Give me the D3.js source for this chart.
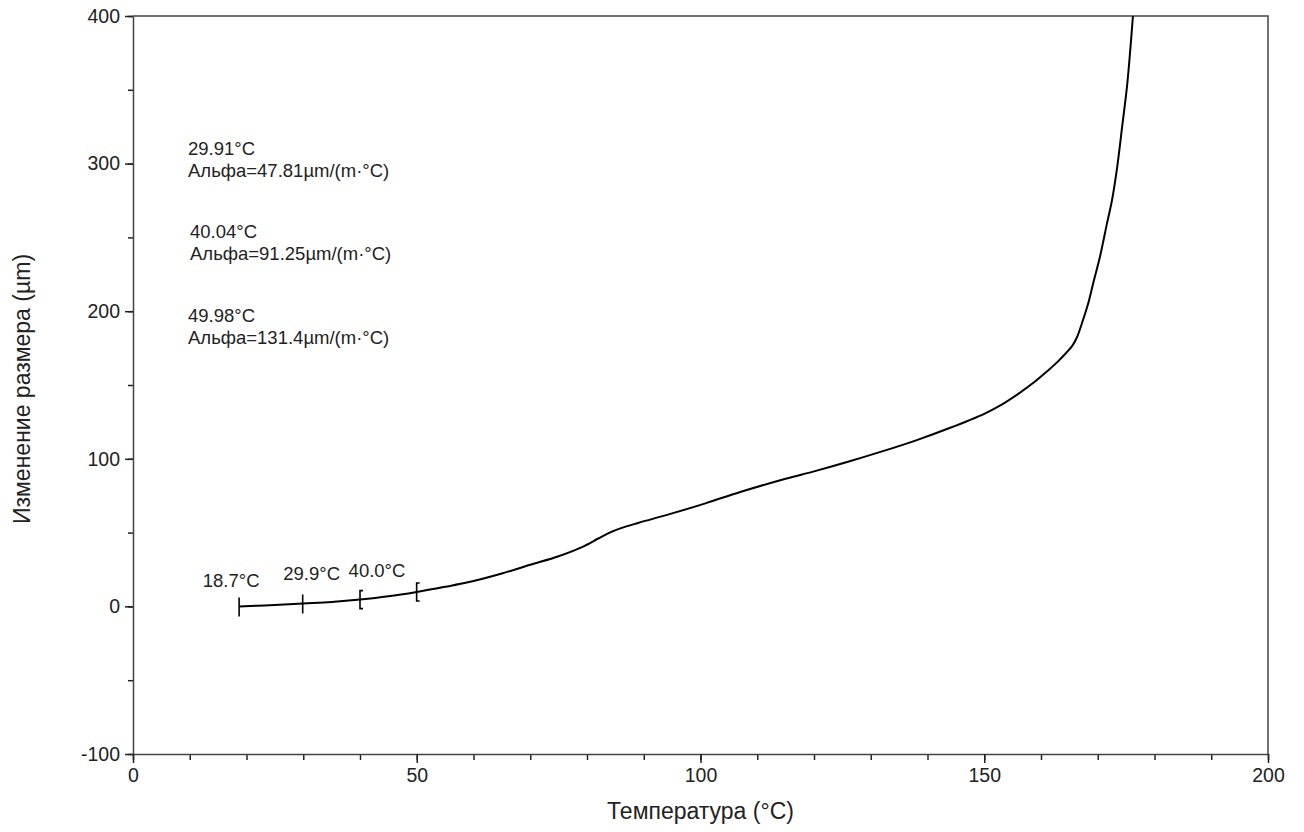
<!DOCTYPE html>
<html>
<head>
<meta charset="utf-8">
<script src="https://cdn.jsdelivr.net/npm/d3@7"></script>
<style>
  body { margin: 0; background: #fff; }
  text { font-family: "Liberation Sans", Arial, sans-serif; fill: #222; }
</style>
</head>
<body>
<svg id="chart" width="1304" height="832"></svg>
<script>
// dilatometer curve
const temps = [18.7, 22, 25, 30, 35, 40, 45, 50, 55, 59, 65, 70, 75, 79, 82, 84, 86, 89, 95, 101, 107, 115, 120, 126, 132, 138, 144, 150, 153, 156, 159, 161, 163, 164.5, 165.5, 166.3, 167.4, 168.3, 169.2, 170.4, 171.6, 172.5, 173.4, 174.3, 175.2, 176.2]
const dL    = [0, 0.5, 1.0, 2.0, 3.0, 4.6, 6.8, 9.8, 13.3, 16.3, 22.3, 28.2, 34, 40, 46, 50, 53, 56.5, 63, 70, 77.5, 86.5, 91.5, 98, 105, 112.5, 121, 130.5, 136.5, 144, 152.5, 159, 166, 172, 176.5, 182, 194, 205, 219, 237, 259, 275, 297, 325, 354, 400]

// markers on the curve
const markTemps  = [18.7, 29.9, 40.0, 49.98]
const markKinds  = ['bar', 'bar', 'bracket', 'bracket']
const markLabels = ['18.7°C', '29.9°C', '40.0°C']

// alpha annotations
const alphaTemps  = ['29.91°C', '40.04°C', '49.98°C']
const alphaValues = ['Альфа=47.81µm/(m·°C)', 'Альфа=91.25µm/(m·°C)', 'Альфа=131.4µm/(m·°C)']

const xTicks = [0, 50, 100, 150, 200]
const yTicks = [-100, 0, 100, 200, 300, 400]

const margin = { top: 16, left: 133 }
const w = 1135, h = 738

const svg = d3.select('#chart')
const g = svg.append('g').attr('transform', `translate(${margin.left},${margin.top})`)

const x = d3.scaleLinear().domain([0, 200]).range([0, w])
const y = d3.scaleLinear().domain([-100, 400]).range([h, 0])
const fmt = d => String(d)   // plain hyphen for negatives

// frame top / right
g.append('path')
  .attr('d', `M0,0H${w}V${h}`)
  .attr('fill', 'none').attr('stroke', '#444').attr('stroke-width', 1.5)

// minor ticks
g.append('g').attr('transform', `translate(0,${h})`)
  .call(d3.axisBottom(x).tickValues(d3.range(0, 201, 10)).tickSize(6).tickFormat(''))
  .call(a => a.select('.domain').remove())
  .selectAll('line').attr('stroke', '#222').attr('stroke-width', 1.5)
g.append('g')
  .call(d3.axisLeft(y).tickValues(d3.range(-100, 401, 50)).tickSize(5).tickFormat(''))
  .call(a => a.select('.domain').remove())
  .selectAll('line').attr('stroke', '#222').attr('stroke-width', 1.5)

// major axes
const xAxis = g.append('g').attr('transform', `translate(0,${h})`)
  .call(d3.axisBottom(x).tickValues(xTicks).tickFormat(fmt).tickSize(9).tickSizeOuter(0).tickPadding(5))
const yAxis = g.append('g')
  .call(d3.axisLeft(y).tickValues(yTicks).tickFormat(fmt).tickSize(8).tickSizeOuter(0).tickPadding(5))
;[xAxis, yAxis].forEach(a => {
  a.select('.domain').attr('stroke', '#444').attr('stroke-width', 1.5)
  a.selectAll('line').attr('stroke', '#222').attr('stroke-width', 1.5)
  a.selectAll('text').attr('font-size', 19.5).attr('fill', '#222')
    .style('font-family', '"Liberation Sans", Arial, sans-serif')
})

// axis titles
svg.append('text')
  .attr('x', margin.left + x(100)).attr('y', 819)
  .attr('text-anchor', 'middle').attr('font-size', 23)
  .text('Температура (°C)')
svg.append('text')
  .attr('transform', `translate(30,${margin.top + y(150) + 4}) rotate(-90)`)
  .attr('text-anchor', 'middle').attr('font-size', 23)
  .text('Изменение размера (µm)')

// curve
const pts = temps.map((t, i) => [t, dL[i]])
g.append('path')
  .datum(pts)
  .attr('fill', 'none').attr('stroke', '#000').attr('stroke-width', 2)
  .attr('d', d3.line().x(d => x(d[0])).y(d => y(d[1])).curve(d3.curveCatmullRom.alpha(0.5)))

// curve value at temperature (linear between read points)
const at = t => {
  const i = Math.max(1, d3.bisectLeft(temps, t))
  const t0 = temps[i - 1], t1 = temps[i]
  return dL[i - 1] + (dL[i] - dL[i - 1]) * (t - t0) / (t1 - t0)
}

markTemps.forEach((t, i) => {
  const px = x(t), py = y(at(t))
  let d
  if (markKinds[i] === 'bar') d = `M${px},${py - 9}V${py + 10}`
  else d = `M${px + 3},${py - 9}H${px}V${py + 9}H${px + 3}`
  g.append('path').attr('d', d).attr('fill', 'none')
    .attr('stroke', '#000').attr('stroke-width', 1.6)
})

const labelDx = [-8, 9, 17]
const labelDy = [-19, -23, -23]
markLabels.forEach((s, i) => {
  const t = markTemps[i]
  g.append('text')
    .attr('x', x(t) + labelDx[i]).attr('y', y(at(t)) + labelDy[i])
    .attr('text-anchor', 'middle').attr('font-size', 18.5)
    .text(s)
})

// alpha annotation blocks
const blockTop = [155, 238, 322]
const blockX = [188, 190, 188]
alphaTemps.forEach((s, i) => {
  const tx = svg.append('text').attr('font-size', 18.5)
  tx.append('tspan').attr('x', blockX[i]).attr('y', blockTop[i]).text(s)
  tx.append('tspan').attr('x', blockX[i]).attr('y', blockTop[i] + 22).text(alphaValues[i])
})
</script>
</body>
</html>
